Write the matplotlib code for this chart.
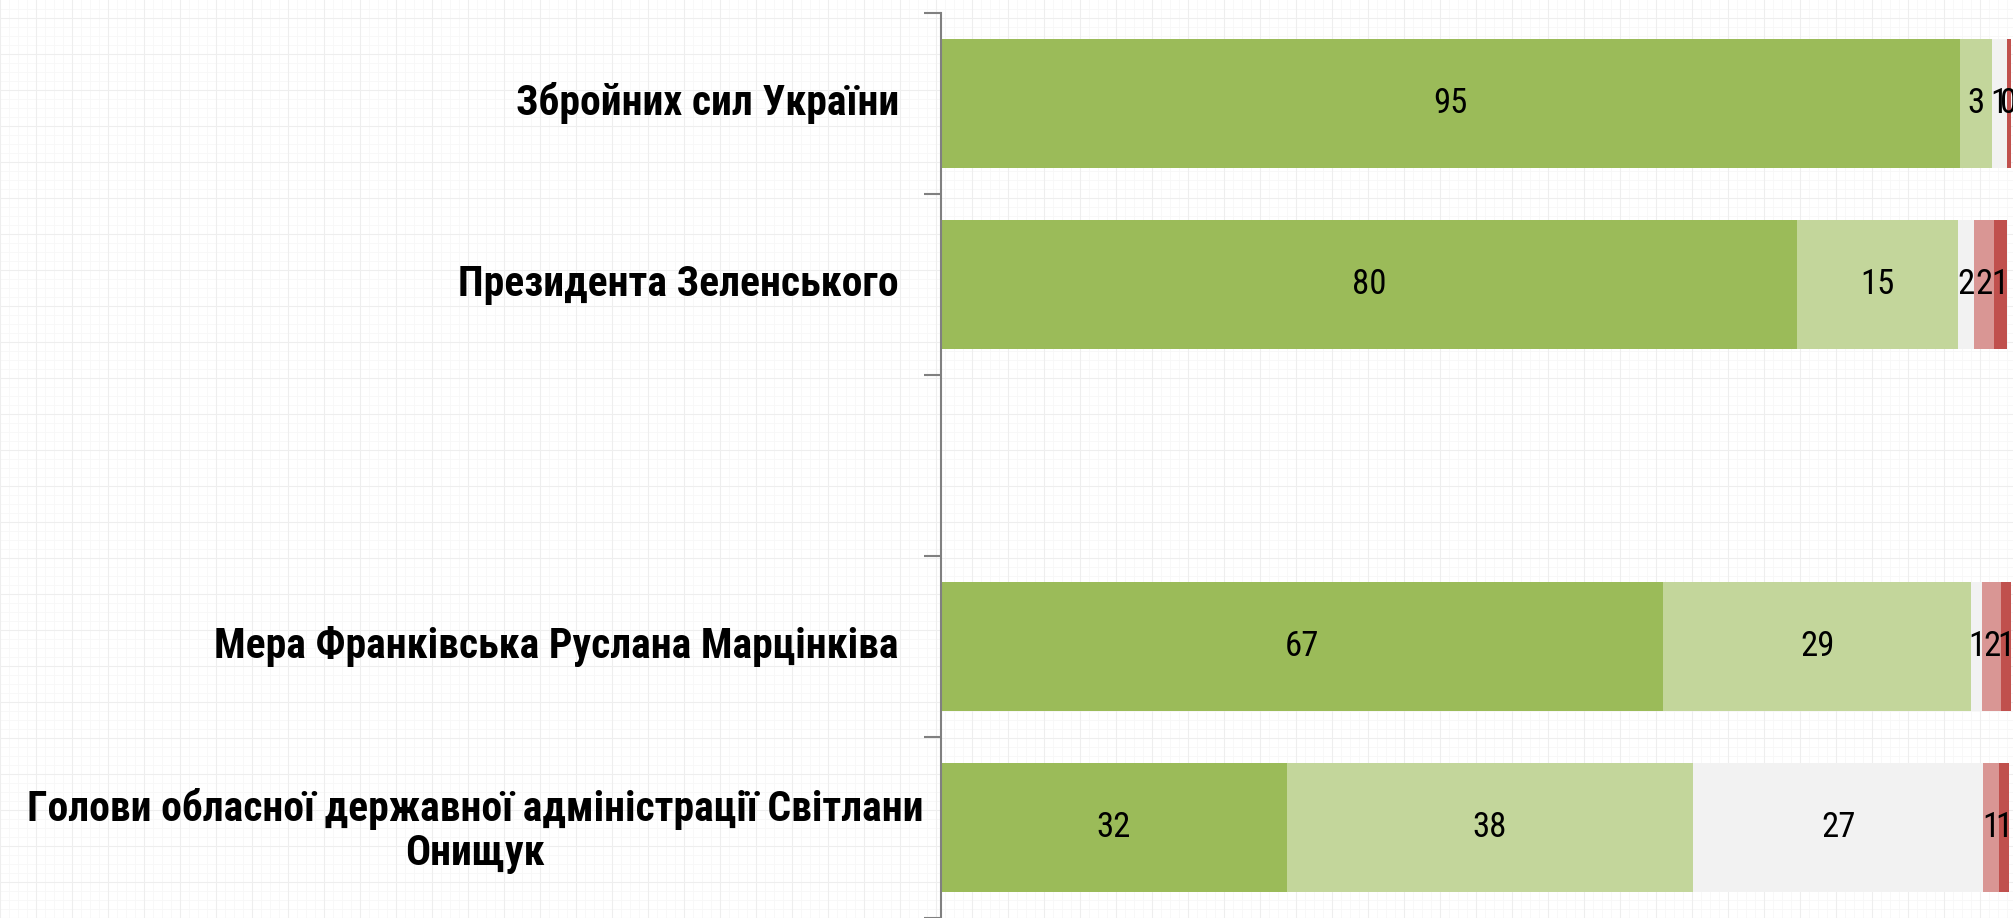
import matplotlib
matplotlib.use("Agg")
import matplotlib.pyplot as plt
import numpy as np

categories = [
    "Збройних сил України",
    "Президента Зеленського",
    "",
    "Мера Франківська Руслана Марцінківа",
    "Голови обласної державної адміністрації Світлани\nОнищук",
]
# segments: fully trust, rather trust, hard to say, rather distrust, fully distrust
seg_values = [
    [95.2, 3.0, 1.4, 0.0, 0.4],
    [80.0, 15.0, 1.5, 1.9, 1.2],
    [0, 0, 0, 0, 0],
    [67.5, 28.8, 1.0, 1.8, 0.9],
    [32.3, 38.0, 27.1, 1.5, 0.9],
]
seg_labels = [
    ["95", "3", "1", "", "0"],
    ["80", "15", "2", "2", "1"],
    ["", "", "", "", ""],
    ["67", "29", "1", "2", "1"],
    ["32", "38", "27", "1", "1"],
]
colors = ["#9BBB59", "#C3D69B", "#F2F2F2", "#D99694", "#C0504D"]

FAM = ["Roboto Condensed", "PT Sans Narrow", "Archivo Narrow", "Liberation Sans"]

W, H = 2013, 918
fig = plt.figure(figsize=(W / 100, H / 100), dpi=100)
fig.patch.set_facecolor("white")

# faint graph-paper background
bg = fig.add_axes([0, 0, 1, 1], zorder=-10)
bg.set_xlim(0, W)
bg.set_ylim(0, H)
for x in np.arange(0, W, 9):
    bg.axvline(x, color="#F7F7F7", lw=0.6)
for y in np.arange(0, H, 9):
    bg.axhline(y, color="#F7F7F7", lw=0.6)
for x in np.arange(0, W, 36):
    bg.axvline(x, color="#EEEEEE", lw=0.8)
for y in np.arange(0, H, 36):
    bg.axhline(y, color="#EEEEEE", lw=0.8)
bg.axis("off")

ax = fig.add_axes([941 / W, 0, 1070 / W, 905 / H])
ax.patch.set_alpha(0)

n = len(categories)
y = np.arange(n)
left = np.zeros(n)
vals = np.array(seg_values, dtype=float)
for j in range(vals.shape[1]):
    ax.barh(y, vals[:, j], left=left, height=0.71, color=colors[j], edgecolor="none")
    for i in range(n):
        lab = seg_labels[i][j]
        if lab:
            ax.text(left[i] + vals[i, j] / 2, y[i], lab, ha="center", va="center",
                    fontsize=25, family=FAM, color="black")
    left += vals[:, j]

ax.set_xlim(0, 100)
ax.set_ylim(n - 0.5, -0.5)
for s in ["top", "right", "bottom"]:
    ax.spines[s].set_visible(False)
ax.spines["left"].set_color("#808080")
ax.spines["left"].set_linewidth(1.5)
ax.set_xticks([])
ax.set_yticks(np.arange(-0.5, n, 1.0))
ax.set_yticklabels([])
ax.tick_params(axis="y", direction="out", length=12, width=1.5, color="#808080")

trans = matplotlib.transforms.blended_transform_factory(fig.transFigure, ax.transData)
for i, cat in enumerate(categories):
    if not cat:
        continue
    if "\n" in cat:
        ax.text(475 / W, i + 0.02, cat, transform=trans, ha="center", va="center",
                multialignment="center", fontsize=30, fontweight="bold",
                family=FAM, linespacing=1.1)
    else:
        ax.text(899 / W, i, cat, transform=trans, ha="right", va="center",
                fontsize=30, fontweight="bold", family=FAM)

fig.savefig("out.png", dpi=100)
